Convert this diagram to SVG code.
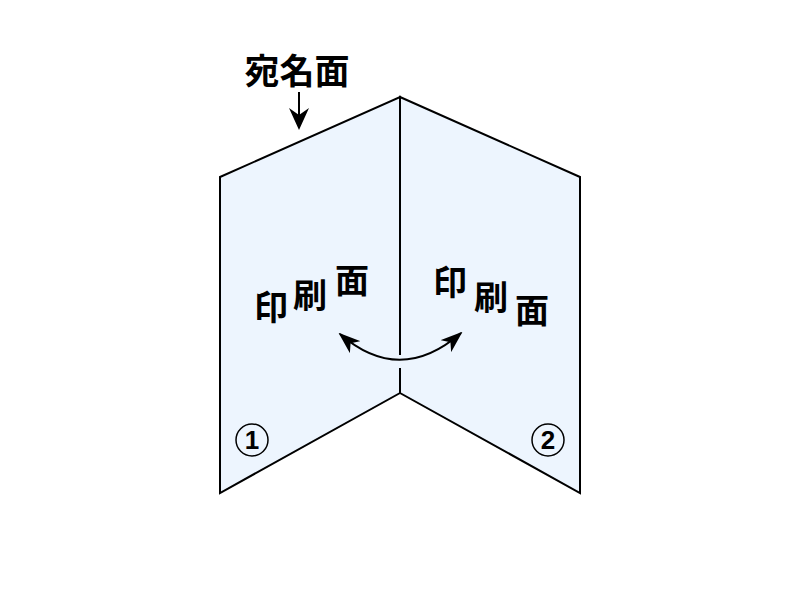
<svg xmlns="http://www.w3.org/2000/svg" width="800" height="600" viewBox="0 0 800 600">
<style>
.panel{fill:#EDF5FE;stroke:#000;stroke-width:2;stroke-linejoin:miter}
.t{font-family:"Noto Sans CJK JP","Noto Sans CJK SC",sans-serif;font-weight:bold;fill:#000}
.n{font-family:"Liberation Sans",Arial,sans-serif;font-weight:bold;font-size:26px;text-anchor:middle;fill:#000}
.c{fill:none;stroke:#000;stroke-width:1.5}
.ln{stroke:#000;stroke-width:2;fill:none}
</style>
<defs>
<marker id="ah" viewBox="0 0 22 16" refX="20" refY="8" markerWidth="22" markerHeight="16" markerUnits="userSpaceOnUse" orient="auto-start-reverse">
<path d="M0,0 L22,8 L0,16 L6,8 Z" fill="#000"/>
</marker>
<marker id="ad" viewBox="0 0 22 20" refX="20" refY="10" markerWidth="22" markerHeight="20" markerUnits="userSpaceOnUse" orient="auto">
<path d="M0,0 L22,10 L0,20 L7,10 Z" fill="#000"/>
</marker>
</defs>
<rect width="800" height="600" fill="#fff"/>
<g id="panel1">
<polygon class="panel" points="220,177 400,97 400,393 220,493"/>
<circle class="c" cx="252" cy="440" r="16"/>
<text class="n" x="252" y="449">1</text>
</g>
<g id="panel2">
<polygon class="panel" points="400,97 580,177 580,493 400,393"/>
<circle class="c" cx="548" cy="440" r="16"/>
<text class="n" x="548" y="449">2</text>
</g>
<g id="label-top">
<text class="t" x="297" y="84" font-size="35" text-anchor="middle">宛名面</text>
</g>
<g id="label-left">
<text class="t" x="254" y="320" font-size="34">印</text>
<text class="t" x="293" y="308" font-size="34">刷</text>
<text class="t" x="335" y="293" font-size="34">面</text>
</g>
<g id="label-right">
<text class="t" x="433" y="295" font-size="34">印</text>
<text class="t" x="474" y="310" font-size="34">刷</text>
<text class="t" x="515" y="323" font-size="34">面</text>
</g>
<g id="connectors">
<line class="ln" x1="299" y1="92" x2="299" y2="128" marker-end="url(#ad)"/>
<path d="M400,355 L400,368" stroke="#EDF5FE" stroke-width="6"/>
<path class="ln" d="M340,334 Q400,386 461,333" marker-start="url(#ah)" marker-end="url(#ah)"/>
</g>
</svg>
